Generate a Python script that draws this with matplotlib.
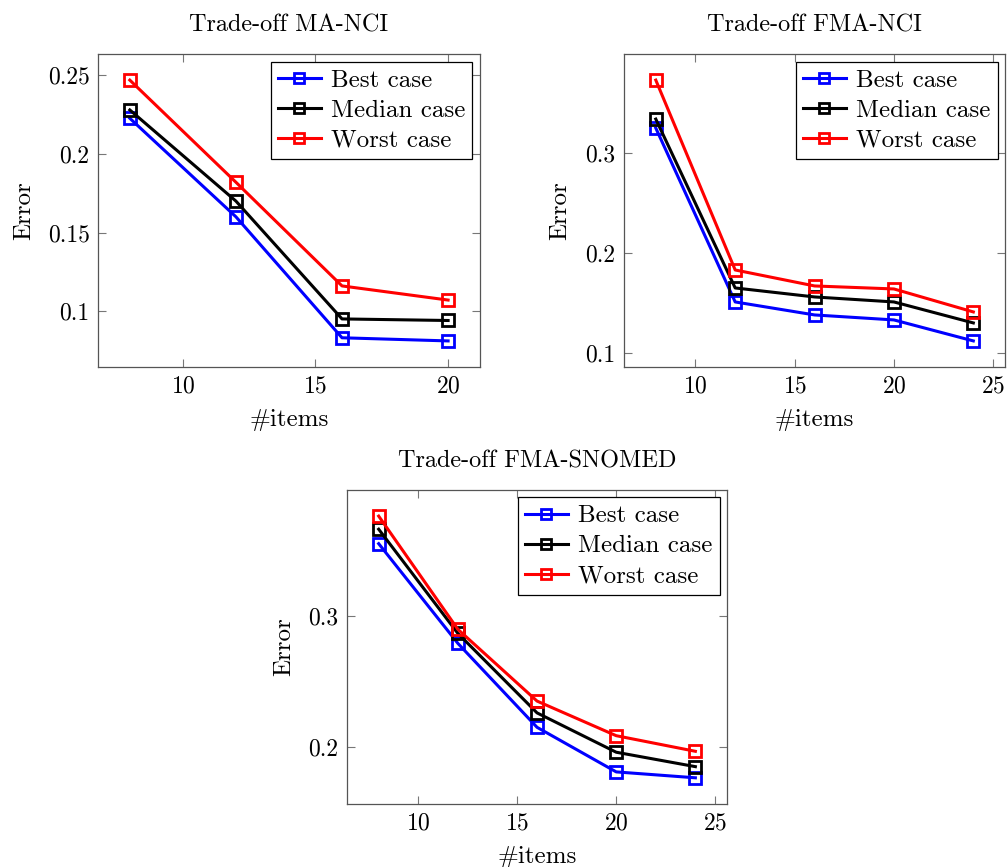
import matplotlib
matplotlib.use("Agg")
import matplotlib.pyplot as plt
from matplotlib.ticker import MultipleLocator, FuncFormatter

# data
items_ma_nci = [8, 12, 16, 20]
best_ma_nci = [0.2227, 0.160, 0.083, 0.081]
median_ma_nci = [0.228, 0.170, 0.095, 0.094]
worst_ma_nci = [0.247, 0.182, 0.116, 0.107]

items_fma_nci = [8, 12, 16, 20, 24]
best_fma_nci = [0.325, 0.151, 0.138, 0.133, 0.112]
median_fma_nci = [0.334, 0.165, 0.156, 0.151, 0.130]
worst_fma_nci = [0.373, 0.183, 0.167, 0.164, 0.141]

items_fma_snomed = [8, 12, 16, 20, 24]
best_fma_snomed = [0.355, 0.279, 0.215, 0.181, 0.1765]
median_fma_snomed = [0.366, 0.2866, 0.226, 0.196, 0.185]
worst_fma_snomed = [0.376, 0.2897, 0.235, 0.2086, 0.1967]

labels = ["Best case", "Median case", "Worst case"]
colors = ["#0000ff", "black", "#ff0000"]

plt.rcParams["font.family"] = "serif"
plt.rcParams["font.serif"] = ["cmr10", "DejaVu Serif"]
plt.rcParams["axes.formatter.use_mathtext"] = True
TFS = 17.5   # titles
KFS = 17     # tick labels
AFS = 18     # axis labels
LFS = 18     # legend

fig = plt.figure(figsize=(10.07, 8.67), dpi=100)


def panel(rect, title, x, series, ystep, ylab_x):
    ax = fig.add_axes(rect)
    for ys, lab, c in zip(series, labels, colors):
        ax.plot(x, ys, color=c, lw=2.2, marker="s", ms=9, mfc="none",
                mew=2.0, label=lab)
    ax.margins(0.1)
    ax.xaxis.set_major_locator(MultipleLocator(5))
    ax.yaxis.set_major_locator(MultipleLocator(ystep))
    ax.yaxis.set_major_formatter(FuncFormatter(lambda v, p: "%g" % round(v, 4)))
    ax.tick_params(direction="in", top=True, right=True, length=6,
                   width=0.8, color="#777777", labelsize=KFS, pad=6)
    for s in ax.spines.values():
        s.set_color("#555555")
        s.set_linewidth(0.9)
    ax.set_title(title, fontsize=TFS, pad=16)
    ax.set_xlabel("#items", fontsize=AFS, labelpad=8)
    ax.set_ylabel("Error", fontsize=AFS)
    ax.yaxis.set_label_coords(ylab_x, 0.5)
    leg = ax.legend(loc="upper right", fontsize=LFS, fancybox=False,
                    edgecolor="black", framealpha=1, borderaxespad=0.3,
                    borderpad=0.3, labelspacing=0.3, handlelength=1.7,
                    handletextpad=0.4, markerscale=0.75)
    leg.get_frame().set_linewidth(0.9)
    return ax


panel([0.0973, 0.5767, 0.3793, 0.361], "Trade-off MA-NCI", items_ma_nci,
      [best_ma_nci, median_ma_nci, worst_ma_nci], 0.05, -0.165)
panel([0.6197, 0.5767, 0.3784, 0.361], "Trade-off FMA-NCI", items_fma_nci,
      [best_fma_nci, median_fma_nci, worst_fma_nci], 0.1, -0.139)
panel([0.3446, 0.0727, 0.3774, 0.3622], "Trade-off FMA-SNOMED", items_fma_snomed,
      [best_fma_snomed, median_fma_snomed, worst_fma_snomed], 0.1, -0.137)

fig.savefig("out.png", dpi=100)
